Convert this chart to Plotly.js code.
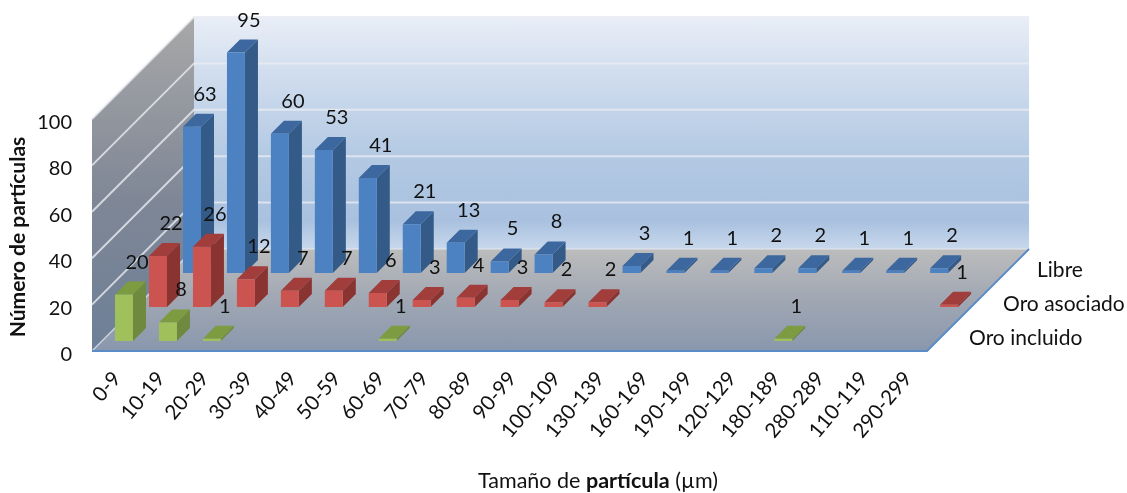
<!DOCTYPE html>
<html><head><meta charset="utf-8">
<script src="https://cdn.plot.ly/plotly-3.0.1.min.js"></script>
<style>html,body{margin:0;padding:0;background:#fff}#c{width:1127px;height:493px;filter:blur(0.4px)}</style>
</head><body><div id="c"></div>
<script>
const categories = ["0-9","10-19","20-29","30-39","40-49","50-59","60-69","70-79","80-89","90-99","100-109","130-139","160-169","190-199","120-129","180-189","280-289","110-119","290-299"];
const seriesNames = ["Oro incluido","Oro asociado","Libre"];
const oroIncluido = [20,8,1,null,null,null,1,null,null,null,null,null,null,null,null,1,null,null,null];
const oroAsociado = [22,26,12,7,7,6,3,4,3,2,2,null,null,null,null,null,null,null,1];
const libre = [63,95,60,53,41,21,13,5,8,null,3,1,1,2,2,1,1,2,null];
const yTicks = [0,20,40,60,80,100];

const FONT = "Lato, Carlito, 'Open Sans', sans-serif";
const CAT_PX = 43.95, VAL_PX = 2.32;          // pixels per category and per value unit
const CELL = 34, ROWS = 3;                    // depth of a series row (px along the oblique)
const BAR_W = 18/CAT_PX, BAR_IN = 13/CAT_PX, BAR_D0 = 10, BAR_D = 13;
const N = categories.length, DEPTH = CELL*ROWS;
// oblique projection: category position, value, depth in px -> axis coordinates
const P = (c, v, d) => [c + d/CAT_PX, v + d/VAL_PX];

function poly(pts){ const x=[],y=[]; pts.forEach(p=>{x.push(p[0]);y.push(p[1]);}); x.push(x[0],null); y.push(y[0],null); return [x,y]; }
function join(list){ const x=[],y=[]; list.forEach(l=>{x.push(...l[0]);y.push(...l[1]);}); return [x,y]; }
function face(xy, color, extra){ return Object.assign({type:'scatter',mode:'lines',x:xy[0],y:xy[1],fill:'toself',fillcolor:color,line:{width:0},hoverinfo:'skip',showlegend:false},extra||{}); }
function grad(stops, lo, hi){ return {fillgradient:{type:'vertical',start:lo,stop:hi,colorscale:stops}}; }

const traces = [];
const topV = 100 + DEPTH/VAL_PX;
// back wall, floor, side wall
traces.push(face(poly([P(0,0,DEPTH),P(N,0,DEPTH),P(N,100,DEPTH),P(0,100,DEPTH)]),'#c0d2e8',
  grad([[0,'#c8d8ec'],[0.12,'#a9c1df'],[0.4,'#b3c9e3'],[0.75,'#d0ddee'],[1,'#e9eef7']],DEPTH/VAL_PX,topV)));
traces.push(face(poly([P(0,0,0),P(N,0,0),P(N,0,DEPTH),P(0,0,DEPTH)]),'#a0a8b4',
  grad([[0,'#8997ad'],[0.5,'#a0a7b3'],[1,'#bcbcbc']],0,DEPTH/VAL_PX)));
traces.push(face(poly([P(0,0,0),P(0,0,DEPTH),P(0,100,DEPTH),P(0,100,0)]),'#888',
  grad([[0,'#6d7f97'],[0.45,'#7f8796'],[1,'#a8a8a8']],0,topV)));
// gridlines on the walls
const gx=[],gy=[];
yTicks.forEach(t=>{ if(t===0) return; [P(0,t,0),P(0,t,DEPTH),P(N,t,DEPTH)].forEach(p=>{gx.push(p[0]);gy.push(p[1]);}); gx.push(null);gy.push(null); });
traces.push({type:'scatter',mode:'lines',x:gx,y:gy,line:{color:'rgba(232,235,241,0.8)',width:2},hoverinfo:'skip',showlegend:false});
const z0=[P(0,0,0),P(0,0,DEPTH),P(N,0,DEPTH)];
traces.push({type:'scatter',mode:'lines',x:z0.map(p=>p[0]),y:z0.map(p=>p[1]),line:{color:'rgba(225,230,238,0.7)',width:1.5},hoverinfo:'skip',showlegend:false});
// floor front and right edges
const edge=[P(0,0,0),P(N,0,0),P(N,0,DEPTH)];
traces.push({type:'scatter',mode:'lines',x:edge.map(p=>p[0]),y:edge.map(p=>p[1]),line:{color:'#5b8cc8',width:2},hoverinfo:'skip',showlegend:false});

// bars, back row first
const rows = [
  {vals:libre, front:'#4d82c2', side:'#345a87', top:'#3c689f'},
  {vals:oroAsociado, front:'#cb5450', side:'#8a3432', top:'#a13d3a'},
  {vals:oroIncluido, front:'#a0c05c', side:'#6f8a3e', top:'#7d9b40'}
];
const labX=[],labY=[],labT=[];
rows.forEach(r=>{
  const s = 2 - rows.indexOf(r), d0 = s*CELL + BAR_D0, d1 = d0 + BAR_D;
  const F=[],S=[],T=[];
  r.vals.forEach((v,i)=>{
    if(v===null) return;
    const L=i+BAR_IN, R=L+BAR_W;
    F.push(poly([P(L,0,d0),P(R,0,d0),P(R,v,d0),P(L,v,d0)]));
    S.push(poly([P(R,0,d0),P(R,0,d1),P(R,v,d1),P(R,v,d0)]));
    T.push(poly([P(L,v,d0),P(R,v,d0),P(R,v,d1),P(L,v,d1)]));
    const q=P(i+35/CAT_PX, v+31/VAL_PX, d0);
    labX.push(q[0]);labY.push(q[1]);labT.push(String(v));
  });
  traces.push(face(join(S),r.side),face(join(T),r.top),face(join(F),r.front));
});
// data labels
traces.push({type:'scatter',mode:'text',x:labX,y:labY,text:labT,textposition:'middle center',textfont:{family:FONT,size:20,color:'#111'},cliponaxis:false,hoverinfo:'skip',showlegend:false});
// series (depth axis) labels
const sp=seriesNames.map((n,s)=>P(N+25/CAT_PX,-5.5/VAL_PX,s*CELL+17));
traces.push({type:'scatter',mode:'text',x:sp.map(p=>p[0]),y:sp.map(p=>p[1]),text:seriesNames,textposition:'middle right',textfont:{family:FONT,size:21,color:'#111'},cliponaxis:false,hoverinfo:'skip',showlegend:false});

const L=69,B=19,W=1127,H=493,X0=92,Y0=351;
const layout={
  width:W,height:H,margin:{l:L,r:0,t:0,b:B,pad:0},paper_bgcolor:'#fff',plot_bgcolor:'rgba(0,0,0,0)',showlegend:false,
  font:{family:FONT,color:'#111'},
  xaxis:{range:[-(X0-L)/CAT_PX,(W-X0)/CAT_PX],anchor:'free',position:(H-B-Y0)/(H-B),tickmode:'array',tickvals:categories.map((c,i)=>i+0.5),ticktext:categories,tickangle:-50,tickfont:{family:FONT,size:20.5,color:'#111'},ticks:'',showgrid:false,zeroline:false,showline:false,automargin:false,ticklabelstandoff:10,
    title:{text:'Tamaño de <b>partícula</b> (µm)',font:{family:FONT,size:21.5,color:'#111'},standoff:37}},
  yaxis:{range:[-(H-B-Y0)/VAL_PX,Y0/VAL_PX],anchor:'free',position:(X0-L)/(W-L),tickmode:'array',tickvals:yTicks,tickfont:{family:FONT,size:20,color:'#111'},ticks:'',showgrid:false,zeroline:false,showline:false,automargin:false,ticklabelstandoff:20,ticklabelshift:3,
    title:{text:'<b>Número de partículas</b>',font:{family:FONT,size:21,color:'#111'},standoff:4}}
};
Plotly.newPlot('c',traces,layout,{displayModeBar:false,staticPlot:true});
</script></body></html>
